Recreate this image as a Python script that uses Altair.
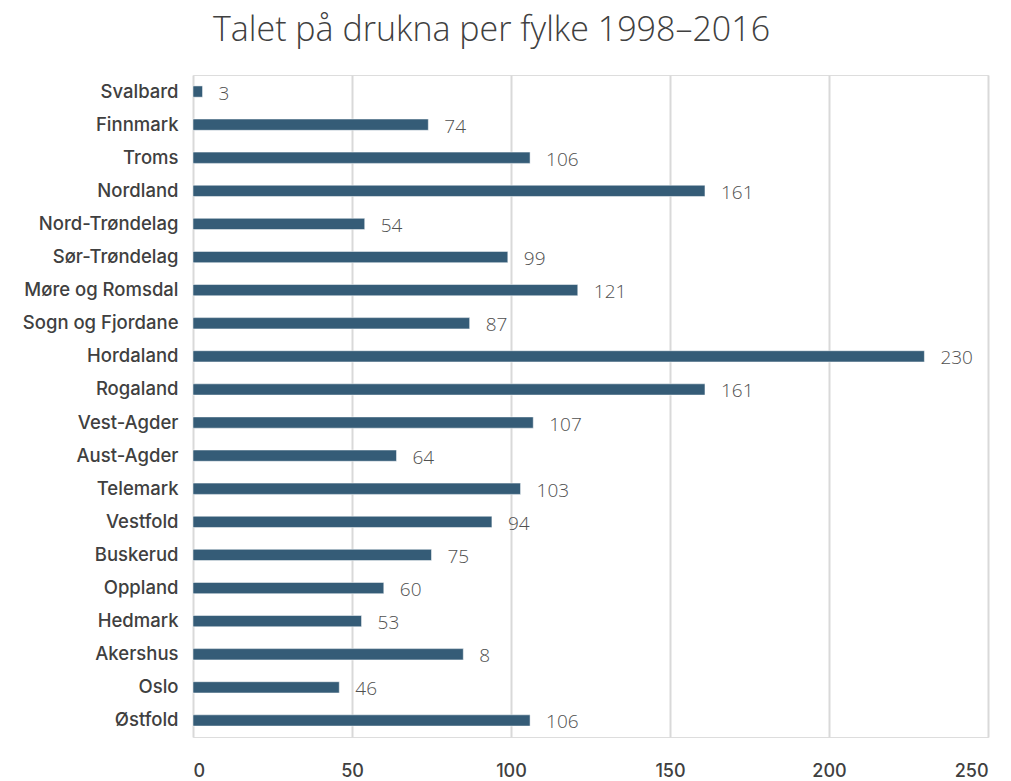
import altair as alt
import pandas as pd

fylke = ["Svalbard", "Finnmark", "Troms", "Nordland", "Nord-Trøndelag", "Sør-Trøndelag",
         "Møre og Romsdal", "Sogn og Fjordane", "Hordaland", "Rogaland", "Vest-Agder",
         "Aust-Agder", "Telemark", "Vestfold", "Buskerud", "Oppland", "Hedmark",
         "Akershus", "Oslo", "Østfold"]
drukna = [3, 74, 106, 161, 54, 99, 121, 87, 230, 161, 107, 64, 103, 94, 75, 60, 53, 85, 46, 106]
etikett = ["3", "74", "106", "161", "54", "99", "121", "87", "230", "161", "107", "64",
           "103", "94", "75", "60", "53", "8", "46", "106"]
x_ticks = [0, 50, 100, 150, 200, 250]

df = pd.DataFrame({"fylke": fylke, "drukna": drukna, "etikett": etikett})

FONT = "Inter"
TFONT = "Open Sans"

y = alt.Y("fylke:N", sort=fylke, title=None,
          scale=alt.Scale(paddingInner=0.66, paddingOuter=0.33),
          axis=alt.Axis(domain=False, ticks=False, labelPadding=15, labelFontSize=18.5,
                        labelFont=FONT, labelFontWeight=500, labelColor="#404040",
                        minExtent=172, maxExtent=172))
x = alt.X("drukna:Q", title=None,
          scale=alt.Scale(domain=[0, 250], nice=False),
          axis=alt.Axis(values=x_ticks, domain=False, ticks=False, grid=True,
                        gridColor="#d9d9d9", gridWidth=2, labelPadding=25,
                        labelFontSize=18, labelFont=FONT, labelColor="#404040",
                        labelFontWeight=500))

bars = alt.Chart(df).mark_bar(color="#355c77", stroke="#ffffff", strokeWidth=0.5).encode(x=x, y=y)
text = alt.Chart(df).mark_text(align="left", baseline="middle", dx=16, dy=2,
                               fontSize=19, font=TFONT, fontWeight=300,
                               color="#505050").encode(x=x, y=y, text="etikett:N")

chart = (bars + text).properties(
    width=795, height=662,
    padding={"left": 13, "top": 6, "right": 10, "bottom": 5},
    title=alt.Title("Talet på drukna per fylke 1998–2016", fontSize=34, font=TFONT,
                    fontWeight=300, color="#404040", anchor="middle", frame="bounds",
                    offset=27, dx=-13),
).configure_view(stroke=None).configure(background="white")

chart.save("out.html", embed_options={"renderer": "svg", "actions": False})
